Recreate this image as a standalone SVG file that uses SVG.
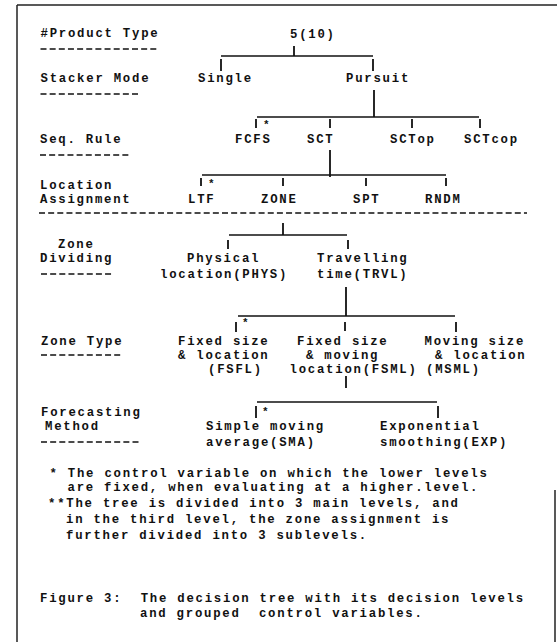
<svg xmlns="http://www.w3.org/2000/svg" width="557" height="642" viewBox="0 0 557 642">
<style>
text { font-family: "Liberation Mono", "DejaVu Sans Mono", monospace; font-size: 12.3px; font-weight: bold; letter-spacing: 1.77px; fill: #111; white-space: pre; }
.star { font-size: 11px; letter-spacing: 0; }
.c { stroke: #111; stroke-width: 1.3; fill: none; }
.v { stroke: #111; stroke-width: 1.8; fill: none; }
.dash { stroke: #111; stroke-width: 1.4; stroke-dasharray: 6 3.15; fill: none; }
.frame { stroke: #222; stroke-width: 1.5; fill: none; }
</style>
<rect width="557" height="642" fill="#fff"/>
<g id="frame">
  <line class="frame" x1="17" y1="5" x2="557" y2="5"/>
  <line class="frame" x1="17" y1="5" x2="17" y2="642"/>
  <line class="frame" x1="555" y1="490" x2="555" y2="642"/>
</g>
<g id="labels">
  <g id="lbl-product"><text x="40.5" y="37">#Product Type</text><line class="dash" x1="40.5" y1="49" x2="158" y2="49"/></g>
  <g id="lbl-stacker"><text x="40.5" y="82">Stacker Mode</text><line class="dash" x1="40.5" y1="94" x2="140" y2="94"/></g>
  <g id="lbl-seq"><text x="40" y="143">Seq. Rule</text><line class="dash" x1="40" y1="155" x2="130" y2="155"/></g>
  <g id="lbl-loc"><text x="40" y="189">Location</text><text x="40" y="203">Assignment</text></g>
  <g id="separator"><line class="dash" x1="39" y1="213" x2="527" y2="213"/></g>
  <g id="lbl-zonediv"><text x="58" y="248">Zone</text><text x="40" y="262">Dividing</text><line class="dash" x1="41" y1="274" x2="113" y2="274"/></g>
  <g id="lbl-zonetype"><text x="41" y="345">Zone Type</text><line class="dash" x1="41" y1="355" x2="122" y2="355"/></g>
  <g id="lbl-forecast"><text x="41" y="416">Forecasting</text><text x="45" y="430">Method</text><line class="dash" x1="41" y1="442" x2="140" y2="442"/></g>
</g>
<g id="connectors">
  <line class="v" x1="294" y1="46" x2="294" y2="56"/>
  <line class="c" x1="221" y1="56" x2="373" y2="56"/>
  <line class="v" x1="221" y1="59" x2="221" y2="71"/>
  <line class="v" x1="373" y1="59" x2="373" y2="71"/>
  <line class="v" x1="374" y1="90" x2="374" y2="117"/>
  <line class="c" x1="257" y1="117" x2="479" y2="117"/>
  <line class="v" x1="256" y1="119" x2="256" y2="128"/>
  <line class="v" x1="330" y1="119" x2="330" y2="128"/>
  <line class="v" x1="412" y1="119" x2="412" y2="128"/>
  <line class="v" x1="480" y1="119" x2="480" y2="128"/>
  <line class="v" x1="330" y1="150" x2="330" y2="177"/>
  <line class="c" x1="202" y1="175" x2="446" y2="175"/>
  <line class="v" x1="201" y1="178" x2="201" y2="186"/>
  <line class="v" x1="283" y1="178" x2="283" y2="186"/>
  <line class="v" x1="366" y1="178" x2="366" y2="186"/>
  <line class="v" x1="446" y1="178" x2="446" y2="186"/>
  <line class="v" x1="283" y1="223" x2="283" y2="235"/>
  <line class="c" x1="229" y1="235" x2="347" y2="235"/>
  <line class="v" x1="228" y1="240" x2="228" y2="249"/>
  <line class="v" x1="348" y1="240" x2="348" y2="249"/>
  <line class="v" x1="346" y1="287" x2="346" y2="316"/>
  <line class="c" x1="238" y1="316" x2="455" y2="316"/>
  <line class="v" x1="236" y1="322" x2="236" y2="332"/>
  <line class="v" x1="345" y1="322" x2="345" y2="331"/>
  <line class="v" x1="456" y1="322" x2="456" y2="332"/>
  <line class="v" x1="346" y1="376" x2="346" y2="388"/>
  <line class="c" x1="257" y1="402" x2="437" y2="402"/>
  <line class="v" x1="256" y1="406" x2="256" y2="418"/>
  <line class="v" x1="438" y1="406" x2="438" y2="418"/>
  <text class="star" x="263" y="128">*</text>
  <text class="star" x="208" y="187">*</text>
  <text class="star" x="242" y="326">*</text>
  <text class="star" x="262" y="415">*</text>
</g>
<g id="n-5-10"><text x="290" y="38">5(10)</text></g>
<g id="n-single"><text x="198" y="82">Single</text></g>
<g id="n-pursuit"><text x="346" y="82">Pursuit</text></g>
<g id="n-fcfs"><text x="235" y="143">FCFS</text></g>
<g id="n-sct"><text x="307" y="143">SCT</text></g>
<g id="n-sctop"><text x="390" y="143">SCTop</text></g>
<g id="n-sctcop"><text x="464" y="143">SCTcop</text></g>
<g id="n-ltf"><text x="188" y="203">LTF</text></g>
<g id="n-zone"><text x="261" y="203">ZONE</text></g>
<g id="n-spt"><text x="353" y="203">SPT</text></g>
<g id="n-rndm"><text x="425" y="203">RNDM</text></g>
<g id="n-phys"><text x="187" y="262">Physical</text><text x="160" y="278">location(PHYS)</text></g>
<g id="n-trvl"><text x="317" y="262">Travelling</text><text x="317" y="278">time(TRVL)</text></g>
<g id="n-fsfl"><text x="178" y="345">Fixed size</text><text x="178" y="359">&amp; location</text><text x="208" y="373">(FSFL)</text></g>
<g id="n-fsml"><text x="297" y="345">Fixed size</text><text x="306" y="359">&amp; moving</text><text x="289.5" y="373">location(FSML)</text></g>
<g id="n-msml"><text x="424.5" y="345">Moving size</text><text x="435" y="359">&amp; location</text><text x="426" y="373">(MSML)</text></g>
<g id="n-sma"><text x="206" y="430">Simple moving</text><text x="206" y="446">average(SMA)</text></g>
<g id="n-exp"><text x="380" y="430">Exponential</text><text x="380" y="446">smoothing(EXP)</text></g>
<g id="notes">
  <text x="49.5" y="477">* The control variable on which the lower levels</text>
  <text x="67.5" y="491">are fixed, when evaluating at a higher.level.</text>
  <text x="48" y="507">**The tree is divided into 3 main levels, and</text>
  <text x="66" y="523">in the third level, the zone assignment is</text>
  <text x="66" y="539">further divided into 3 sublevels.</text>
  <text x="40" y="602">Figure 3:  The decision tree with its decision levels</text>
  <text x="140" y="617">and grouped  control variables.</text>
</g>
</svg>
